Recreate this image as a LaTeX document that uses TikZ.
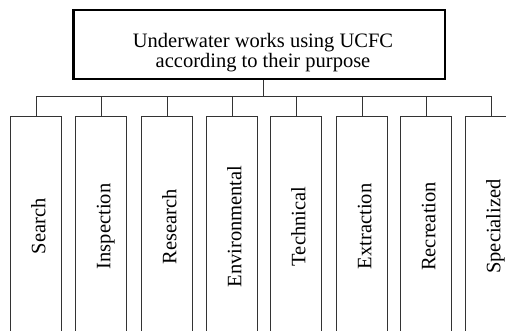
\documentclass[tikz,border=0pt]{standalone}
\usepackage{fontspec}
\setmainfont{Liberation Serif}
\begin{document}
\begin{tikzpicture}[x=1pt,y=1pt,
  line/.style={line width=0.9pt, draw=black!80},
  catbox/.style={draw=black!80, line width=0.9pt, minimum width=51pt, minimum height=220pt, anchor=north west, inner sep=0pt},
  lbl/.style={rotate=90, anchor=base, inner sep=0pt, font=\fontsize{20.5}{20}\selectfont},
  topbox/.style={draw=black, line width=2.2pt, minimum width=371.5pt, minimum height=69pt, inner sep=0pt}]
\clip (0,0) rectangle (506,330);
\fill[white] (0,0) rectangle (506,330);
\node[topbox] (title) at (259.25,285.5) {};
\node[anchor=north, inner sep=0pt, align=center, font=\fontsize{20.5}{20}\selectfont] (ttl) at (263,297)
  {Underwater works using UCFC\\according to their purpose};
\node[catbox] (b1) at (10,214) {};
\node[catbox] (b2) at (75,214) {};
\node[catbox] (b3) at (141,214) {};
\node[catbox] (b4) at (206,214) {};
\node[catbox] (b5) at (270,214) {};
\node[catbox] (b6) at (336,214) {};
\node[catbox] (b7) at (400,214) {};
\node[catbox] (b8) at (465,214) {};
\node[lbl] (t1) at ([xshift=9.5pt]b1.center) {Search};
\node[lbl] (t2) at ([xshift=9.5pt]b2.center) {Inspection};
\node[lbl] (t3) at ([xshift=9.5pt]b3.center) {Research};
\node[lbl] (t4) at ([xshift=9.5pt]b4.center) {Environmental};
\node[lbl] (t5) at ([xshift=9.5pt]b5.center) {Technical};
\node[lbl] (t6) at ([xshift=9.5pt]b6.center) {Extraction};
\node[lbl] (t7) at ([xshift=9.5pt]b7.center) {Recreation};
\node[lbl] (t8) at ([xshift=9.5pt]b8.center) {Specialized};
\coordinate (bus) at (263.3,234);
\draw[line] (title.south -| bus) -- (bus);
\draw[line] (b1.north) -- (b1.north |- bus) -- (b8.north |- bus) -- (b8.north);
\foreach \i in {2,...,7} {\draw[line] (b\i.north) -- (b\i.north |- bus);}
\end{tikzpicture}
\end{document}
